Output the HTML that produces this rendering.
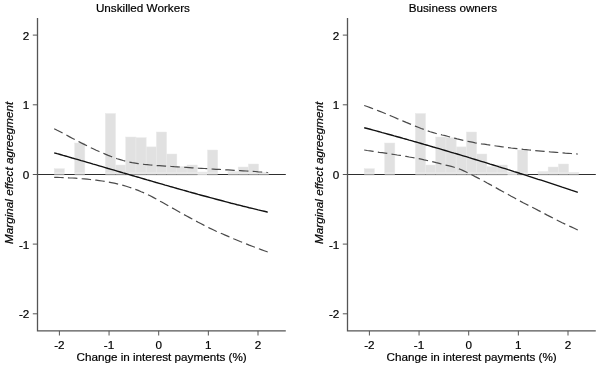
<!DOCTYPE html>
<html><head><meta charset="utf-8"><title>Marginal effects</title>
<style>
html,body{margin:0;padding:0;background:#fff;}
svg{display:block}
text{font-family:"Liberation Sans",sans-serif;fill:#000;stroke:#000;stroke-width:0.2px}
.t{font-size:11.7px}
.ti{font-size:11.7px}
.xl{font-size:11.7px}
.yl{font-size:11.7px;font-style:italic}
.d{fill:none;stroke:#4a4a4a;stroke-width:1.2;stroke-dasharray:0.69 0.31}
.s{fill:none;stroke:#111;stroke-width:1.4}
</style></head><body>
<svg width="600" height="367" viewBox="0 0 600 367">
<rect width="600" height="367" fill="#fff"/>
<rect x="54.20" y="168.7" width="10.22" height="4.15" fill="#e1e1e1" stroke="#e9e9e9" stroke-width="0.5"/>
<rect x="54.20" y="172.85" width="10.22" height="1.2" fill="#ededed"/>
<rect x="74.64" y="143" width="10.22" height="29.85" fill="#e1e1e1" stroke="#e9e9e9" stroke-width="0.5"/>
<rect x="74.64" y="172.85" width="10.22" height="1.2" fill="#ededed"/>
<rect x="105.30" y="113.5" width="10.22" height="59.35" fill="#e1e1e1" stroke="#e9e9e9" stroke-width="0.5"/>
<rect x="105.30" y="172.85" width="10.22" height="1.2" fill="#ededed"/>
<rect x="115.52" y="165" width="10.22" height="7.85" fill="#e1e1e1" stroke="#e9e9e9" stroke-width="0.5"/>
<rect x="115.52" y="172.85" width="10.22" height="1.2" fill="#ededed"/>
<rect x="125.74" y="137" width="10.22" height="35.85" fill="#e1e1e1" stroke="#e9e9e9" stroke-width="0.5"/>
<rect x="125.74" y="172.85" width="10.22" height="1.2" fill="#ededed"/>
<rect x="135.96" y="137.7" width="10.22" height="35.15" fill="#e1e1e1" stroke="#e9e9e9" stroke-width="0.5"/>
<rect x="135.96" y="172.85" width="10.22" height="1.2" fill="#ededed"/>
<rect x="146.18" y="146.9" width="10.22" height="25.95" fill="#e1e1e1" stroke="#e9e9e9" stroke-width="0.5"/>
<rect x="146.18" y="172.85" width="10.22" height="1.2" fill="#ededed"/>
<rect x="156.40" y="132" width="10.22" height="40.85" fill="#e1e1e1" stroke="#e9e9e9" stroke-width="0.5"/>
<rect x="156.40" y="172.85" width="10.22" height="1.2" fill="#ededed"/>
<rect x="166.62" y="154" width="10.22" height="18.85" fill="#e1e1e1" stroke="#e9e9e9" stroke-width="0.5"/>
<rect x="166.62" y="172.85" width="10.22" height="1.2" fill="#ededed"/>
<rect x="176.84" y="166.5" width="10.22" height="6.35" fill="#e1e1e1" stroke="#e9e9e9" stroke-width="0.5"/>
<rect x="176.84" y="172.85" width="10.22" height="1.2" fill="#ededed"/>
<rect x="187.06" y="165" width="10.22" height="7.85" fill="#e1e1e1" stroke="#e9e9e9" stroke-width="0.5"/>
<rect x="187.06" y="172.85" width="10.22" height="1.2" fill="#ededed"/>
<rect x="197.28" y="172" width="10.22" height="0.85" fill="#e1e1e1" stroke="#e9e9e9" stroke-width="0.5"/>
<rect x="197.28" y="172.85" width="10.22" height="1.2" fill="#ededed"/>
<rect x="207.50" y="150" width="10.22" height="22.85" fill="#e1e1e1" stroke="#e9e9e9" stroke-width="0.5"/>
<rect x="207.50" y="172.85" width="10.22" height="1.2" fill="#ededed"/>
<rect x="227.94" y="171.5" width="10.22" height="1.35" fill="#e1e1e1" stroke="#e9e9e9" stroke-width="0.5"/>
<rect x="227.94" y="172.85" width="10.22" height="1.2" fill="#ededed"/>
<rect x="238.16" y="167" width="10.22" height="5.85" fill="#e1e1e1" stroke="#e9e9e9" stroke-width="0.5"/>
<rect x="238.16" y="172.85" width="10.22" height="1.2" fill="#ededed"/>
<rect x="248.38" y="164" width="10.22" height="8.85" fill="#e1e1e1" stroke="#e9e9e9" stroke-width="0.5"/>
<rect x="248.38" y="172.85" width="10.22" height="1.2" fill="#ededed"/>
<rect x="258.60" y="172.5" width="10.22" height="0.35" fill="#e1e1e1" stroke="#e9e9e9" stroke-width="0.5"/>
<rect x="258.60" y="172.85" width="10.22" height="1.2" fill="#ededed"/>
<line x1="37.5" y1="174.55" x2="285.8" y2="174.55" stroke="#2e2e2e" stroke-width="1.1"/>
<rect x="54.20" y="173.95" width="10.22" height="1.2" fill="#969696"/>
<rect x="74.64" y="173.95" width="10.22" height="1.2" fill="#969696"/>
<rect x="105.30" y="173.95" width="10.22" height="1.2" fill="#969696"/>
<rect x="115.52" y="173.95" width="10.22" height="1.2" fill="#969696"/>
<rect x="125.74" y="173.95" width="10.22" height="1.2" fill="#969696"/>
<rect x="135.96" y="173.95" width="10.22" height="1.2" fill="#969696"/>
<rect x="146.18" y="173.95" width="10.22" height="1.2" fill="#969696"/>
<rect x="156.40" y="173.95" width="10.22" height="1.2" fill="#969696"/>
<rect x="166.62" y="173.95" width="10.22" height="1.2" fill="#969696"/>
<rect x="176.84" y="173.95" width="10.22" height="1.2" fill="#969696"/>
<rect x="187.06" y="173.95" width="10.22" height="1.2" fill="#969696"/>
<rect x="197.28" y="173.95" width="10.22" height="1.2" fill="#cfcfcf"/>
<rect x="207.50" y="173.95" width="10.22" height="1.2" fill="#969696"/>
<rect x="227.94" y="173.95" width="10.22" height="1.2" fill="#969696"/>
<rect x="238.16" y="173.95" width="10.22" height="1.2" fill="#969696"/>
<rect x="248.38" y="173.95" width="10.22" height="1.2" fill="#969696"/>
<rect x="258.60" y="173.95" width="10.22" height="1.2" fill="#969696"/>
<path d="M37.5,17.9 V330.9 H285.8" fill="none" stroke="#555" stroke-width="1.3"/>
<line x1="32.8" y1="35.1" x2="37.5" y2="35.1" stroke="#555" stroke-width="1"/>
<text x="29.3" y="39.7" text-anchor="end" class="t">2</text>
<line x1="32.8" y1="104.8" x2="37.5" y2="104.8" stroke="#555" stroke-width="1"/>
<text x="29.3" y="109.39999999999999" text-anchor="end" class="t">1</text>
<line x1="32.8" y1="174.5" x2="37.5" y2="174.5" stroke="#555" stroke-width="1"/>
<text x="29.3" y="179.1" text-anchor="end" class="t">0</text>
<line x1="32.8" y1="244.1" x2="37.5" y2="244.1" stroke="#555" stroke-width="1"/>
<text x="29.3" y="248.7" text-anchor="end" class="t">-1</text>
<line x1="32.8" y1="313.8" x2="37.5" y2="313.8" stroke="#555" stroke-width="1"/>
<text x="29.3" y="318.40000000000003" text-anchor="end" class="t">-2</text>
<line x1="59.4" y1="330.9" x2="59.4" y2="335.5" stroke="#555" stroke-width="1"/>
<text x="59.4" y="348.7" text-anchor="middle" class="t">-2</text>
<line x1="109.05" y1="330.9" x2="109.05" y2="335.5" stroke="#555" stroke-width="1"/>
<text x="109.05" y="348.7" text-anchor="middle" class="t">-1</text>
<line x1="158.7" y1="330.9" x2="158.7" y2="335.5" stroke="#555" stroke-width="1"/>
<text x="158.7" y="348.7" text-anchor="middle" class="t">0</text>
<line x1="208.35" y1="330.9" x2="208.35" y2="335.5" stroke="#555" stroke-width="1"/>
<text x="208.35" y="348.7" text-anchor="middle" class="t">1</text>
<line x1="258" y1="330.9" x2="258" y2="335.5" stroke="#555" stroke-width="1"/>
<text x="258" y="348.7" text-anchor="middle" class="t">2</text>
<path d="M54.2,128.7 L57.2,130.3 L60.2,131.8 L63.2,133.4 L66.2,135.0 L69.2,136.6 L72.2,138.2 L75.2,139.8 L78.2,141.3 L81.2,142.9 L84.2,144.4 L87.2,145.9 L90.2,147.4 L93.2,148.8 L96.2,150.2 L99.2,151.5 L102.2,152.8 L105.2,154.1 L108.2,155.4 L111.2,156.5 L114.2,157.7 L117.2,158.7 L120.2,159.6 L123.2,160.5 L126.2,161.3 L129.2,162.0 L132.2,162.6 L135.2,163.1 L138.2,163.6 L141.2,164.0 L144.2,164.4 L147.2,164.7 L150.2,165.0 L153.2,165.3 L156.2,165.5 L159.2,165.7 L162.2,165.9 L165.2,166.1 L168.2,166.3 L171.2,166.5 L174.2,166.7 L177.2,166.8 L180.2,167.0 L183.2,167.2 L186.2,167.4 L189.2,167.6 L192.2,167.8 L195.2,168.0 L198.2,168.2 L201.2,168.3 L204.2,168.5 L207.2,168.7 L210.2,168.9 L213.2,169.1 L216.2,169.3 L219.2,169.4 L222.2,169.6 L225.2,169.8 L228.2,169.9 L231.2,170.1 L234.2,170.3 L237.2,170.4 L240.2,170.6 L243.2,170.8 L246.2,171.0 L249.2,171.2 L252.2,171.3 L255.2,171.5 L258.2,171.8 L261.2,172.0 L264.2,172.2 L267.2,172.5 L267.8,172.5" class="d" pathLength="16.1"/>
<path d="M54.2,177.4 L57.2,177.4 L60.2,177.5 L63.2,177.6 L66.2,177.7 L69.2,177.9 L72.2,178.0 L75.2,178.2 L78.2,178.4 L81.2,178.7 L84.2,178.9 L87.2,179.2 L90.2,179.5 L93.2,179.9 L96.2,180.2 L99.2,180.6 L102.2,181.0 L105.2,181.5 L108.2,182.0 L111.2,182.6 L114.2,183.2 L117.2,183.9 L120.2,184.6 L123.2,185.4 L126.2,186.3 L129.2,187.2 L132.2,188.2 L135.2,189.3 L138.2,190.4 L141.2,191.7 L144.2,192.9 L147.2,194.3 L150.2,195.8 L153.2,197.4 L156.2,199.0 L159.2,200.7 L162.2,202.3 L165.2,204.0 L168.2,205.7 L171.2,207.4 L174.2,209.1 L177.2,210.8 L180.2,212.5 L183.2,214.2 L186.2,215.8 L189.2,217.4 L192.2,219.0 L195.2,220.6 L198.2,222.3 L201.2,223.8 L204.2,225.4 L207.2,226.9 L210.2,228.4 L213.2,229.8 L216.2,231.2 L219.2,232.5 L222.2,233.8 L225.2,235.1 L228.2,236.4 L231.2,237.7 L234.2,239.0 L237.2,240.2 L240.2,241.5 L243.2,242.7 L246.2,243.9 L249.2,245.1 L252.2,246.2 L255.2,247.4 L258.2,248.5 L261.2,249.6 L264.2,250.7 L267.2,251.8 L267.8,252.0" class="d" pathLength="16.69"/>
<path d="M54.2,152.8 L57.2,153.7 L60.2,154.5 L63.2,155.4 L66.2,156.2 L69.2,157.1 L72.2,158.0 L75.2,158.8 L78.2,159.7 L81.2,160.6 L84.2,161.4 L87.2,162.3 L90.2,163.2 L93.2,164.1 L96.2,164.9 L99.2,165.8 L102.2,166.7 L105.2,167.6 L108.2,168.5 L111.2,169.3 L114.2,170.2 L117.2,171.1 L120.2,172.0 L123.2,172.9 L126.2,173.7 L129.2,174.6 L132.2,175.5 L135.2,176.4 L138.2,177.2 L141.2,178.1 L144.2,179.0 L147.2,179.9 L150.2,180.7 L153.2,181.6 L156.2,182.5 L159.2,183.3 L162.2,184.2 L165.2,185.1 L168.2,185.9 L171.2,186.8 L174.2,187.6 L177.2,188.5 L180.2,189.3 L183.2,190.2 L186.2,191.0 L189.2,191.9 L192.2,192.7 L195.2,193.5 L198.2,194.4 L201.2,195.2 L204.2,196.0 L207.2,196.8 L210.2,197.6 L213.2,198.4 L216.2,199.2 L219.2,200.0 L222.2,200.8 L225.2,201.6 L228.2,202.4 L231.2,203.2 L234.2,203.9 L237.2,204.7 L240.2,205.4 L243.2,206.2 L246.2,206.9 L249.2,207.7 L252.2,208.4 L255.2,209.1 L258.2,209.9 L261.2,210.6 L264.2,211.3 L267.2,212.0 L267.8,212.1" class="s"/>
<text x="142.9" y="11.5" text-anchor="middle" class="ti">Unskilled Workers</text>
<text x="161.6" y="361.4" text-anchor="middle" class="xl">Change in interest payments (%)</text>
<text transform="translate(12.5,172.8) rotate(-90)" text-anchor="middle" class="yl">Marginal effect agreegment</text>
<rect x="364.20" y="168.7" width="10.22" height="4.15" fill="#e1e1e1" stroke="#e9e9e9" stroke-width="0.5"/>
<rect x="364.20" y="172.85" width="10.22" height="1.2" fill="#ededed"/>
<rect x="384.64" y="143" width="10.22" height="29.85" fill="#e1e1e1" stroke="#e9e9e9" stroke-width="0.5"/>
<rect x="384.64" y="172.85" width="10.22" height="1.2" fill="#ededed"/>
<rect x="415.30" y="113.5" width="10.22" height="59.35" fill="#e1e1e1" stroke="#e9e9e9" stroke-width="0.5"/>
<rect x="415.30" y="172.85" width="10.22" height="1.2" fill="#ededed"/>
<rect x="425.52" y="165" width="10.22" height="7.85" fill="#e1e1e1" stroke="#e9e9e9" stroke-width="0.5"/>
<rect x="425.52" y="172.85" width="10.22" height="1.2" fill="#ededed"/>
<rect x="435.74" y="137" width="10.22" height="35.85" fill="#e1e1e1" stroke="#e9e9e9" stroke-width="0.5"/>
<rect x="435.74" y="172.85" width="10.22" height="1.2" fill="#ededed"/>
<rect x="445.96" y="137.7" width="10.22" height="35.15" fill="#e1e1e1" stroke="#e9e9e9" stroke-width="0.5"/>
<rect x="445.96" y="172.85" width="10.22" height="1.2" fill="#ededed"/>
<rect x="456.18" y="146.9" width="10.22" height="25.95" fill="#e1e1e1" stroke="#e9e9e9" stroke-width="0.5"/>
<rect x="456.18" y="172.85" width="10.22" height="1.2" fill="#ededed"/>
<rect x="466.40" y="132" width="10.22" height="40.85" fill="#e1e1e1" stroke="#e9e9e9" stroke-width="0.5"/>
<rect x="466.40" y="172.85" width="10.22" height="1.2" fill="#ededed"/>
<rect x="476.62" y="154" width="10.22" height="18.85" fill="#e1e1e1" stroke="#e9e9e9" stroke-width="0.5"/>
<rect x="476.62" y="172.85" width="10.22" height="1.2" fill="#ededed"/>
<rect x="486.84" y="166.5" width="10.22" height="6.35" fill="#e1e1e1" stroke="#e9e9e9" stroke-width="0.5"/>
<rect x="486.84" y="172.85" width="10.22" height="1.2" fill="#ededed"/>
<rect x="497.06" y="165" width="10.22" height="7.85" fill="#e1e1e1" stroke="#e9e9e9" stroke-width="0.5"/>
<rect x="497.06" y="172.85" width="10.22" height="1.2" fill="#ededed"/>
<rect x="507.28" y="172" width="10.22" height="0.85" fill="#e1e1e1" stroke="#e9e9e9" stroke-width="0.5"/>
<rect x="507.28" y="172.85" width="10.22" height="1.2" fill="#ededed"/>
<rect x="517.50" y="150" width="10.22" height="22.85" fill="#e1e1e1" stroke="#e9e9e9" stroke-width="0.5"/>
<rect x="517.50" y="172.85" width="10.22" height="1.2" fill="#ededed"/>
<rect x="537.94" y="171.5" width="10.22" height="1.35" fill="#e1e1e1" stroke="#e9e9e9" stroke-width="0.5"/>
<rect x="537.94" y="172.85" width="10.22" height="1.2" fill="#ededed"/>
<rect x="548.16" y="167" width="10.22" height="5.85" fill="#e1e1e1" stroke="#e9e9e9" stroke-width="0.5"/>
<rect x="548.16" y="172.85" width="10.22" height="1.2" fill="#ededed"/>
<rect x="558.38" y="164" width="10.22" height="8.85" fill="#e1e1e1" stroke="#e9e9e9" stroke-width="0.5"/>
<rect x="558.38" y="172.85" width="10.22" height="1.2" fill="#ededed"/>
<rect x="568.60" y="172.5" width="10.22" height="0.35" fill="#e1e1e1" stroke="#e9e9e9" stroke-width="0.5"/>
<rect x="568.60" y="172.85" width="10.22" height="1.2" fill="#ededed"/>
<line x1="347.5" y1="174.55" x2="595.8" y2="174.55" stroke="#2e2e2e" stroke-width="1.1"/>
<rect x="364.20" y="173.95" width="10.22" height="1.2" fill="#969696"/>
<rect x="384.64" y="173.95" width="10.22" height="1.2" fill="#969696"/>
<rect x="415.30" y="173.95" width="10.22" height="1.2" fill="#969696"/>
<rect x="425.52" y="173.95" width="10.22" height="1.2" fill="#969696"/>
<rect x="435.74" y="173.95" width="10.22" height="1.2" fill="#969696"/>
<rect x="445.96" y="173.95" width="10.22" height="1.2" fill="#969696"/>
<rect x="456.18" y="173.95" width="10.22" height="1.2" fill="#969696"/>
<rect x="466.40" y="173.95" width="10.22" height="1.2" fill="#969696"/>
<rect x="476.62" y="173.95" width="10.22" height="1.2" fill="#969696"/>
<rect x="486.84" y="173.95" width="10.22" height="1.2" fill="#969696"/>
<rect x="497.06" y="173.95" width="10.22" height="1.2" fill="#969696"/>
<rect x="507.28" y="173.95" width="10.22" height="1.2" fill="#cfcfcf"/>
<rect x="517.50" y="173.95" width="10.22" height="1.2" fill="#969696"/>
<rect x="537.94" y="173.95" width="10.22" height="1.2" fill="#969696"/>
<rect x="548.16" y="173.95" width="10.22" height="1.2" fill="#969696"/>
<rect x="558.38" y="173.95" width="10.22" height="1.2" fill="#969696"/>
<rect x="568.60" y="173.95" width="10.22" height="1.2" fill="#969696"/>
<path d="M347.5,17.9 V330.9 H595.8" fill="none" stroke="#555" stroke-width="1.3"/>
<line x1="342.8" y1="35.1" x2="347.5" y2="35.1" stroke="#555" stroke-width="1"/>
<text x="339.3" y="39.7" text-anchor="end" class="t">2</text>
<line x1="342.8" y1="104.8" x2="347.5" y2="104.8" stroke="#555" stroke-width="1"/>
<text x="339.3" y="109.39999999999999" text-anchor="end" class="t">1</text>
<line x1="342.8" y1="174.5" x2="347.5" y2="174.5" stroke="#555" stroke-width="1"/>
<text x="339.3" y="179.1" text-anchor="end" class="t">0</text>
<line x1="342.8" y1="244.1" x2="347.5" y2="244.1" stroke="#555" stroke-width="1"/>
<text x="339.3" y="248.7" text-anchor="end" class="t">-1</text>
<line x1="342.8" y1="313.8" x2="347.5" y2="313.8" stroke="#555" stroke-width="1"/>
<text x="339.3" y="318.40000000000003" text-anchor="end" class="t">-2</text>
<line x1="369.4" y1="330.9" x2="369.4" y2="335.5" stroke="#555" stroke-width="1"/>
<text x="369.4" y="348.7" text-anchor="middle" class="t">-2</text>
<line x1="419.05" y1="330.9" x2="419.05" y2="335.5" stroke="#555" stroke-width="1"/>
<text x="419.05" y="348.7" text-anchor="middle" class="t">-1</text>
<line x1="468.7" y1="330.9" x2="468.7" y2="335.5" stroke="#555" stroke-width="1"/>
<text x="468.7" y="348.7" text-anchor="middle" class="t">0</text>
<line x1="518.35" y1="330.9" x2="518.35" y2="335.5" stroke="#555" stroke-width="1"/>
<text x="518.35" y="348.7" text-anchor="middle" class="t">1</text>
<line x1="568" y1="330.9" x2="568" y2="335.5" stroke="#555" stroke-width="1"/>
<text x="568" y="348.7" text-anchor="middle" class="t">2</text>
<path d="M364.2,105.5 L367.2,106.5 L370.2,107.6 L373.2,108.8 L376.2,109.9 L379.2,111.1 L382.2,112.3 L385.2,113.5 L388.2,114.8 L391.2,116.0 L394.2,117.3 L397.2,118.6 L400.2,119.8 L403.2,121.1 L406.2,122.4 L409.2,123.6 L412.2,124.9 L415.2,126.1 L418.2,127.3 L421.2,128.5 L424.2,129.6 L427.2,130.7 L430.2,131.7 L433.2,132.6 L436.2,133.5 L439.2,134.2 L442.2,135.0 L445.2,135.7 L448.2,136.5 L451.2,137.3 L454.2,138.1 L457.2,138.9 L460.2,139.6 L463.2,140.4 L466.2,141.0 L469.2,141.6 L472.2,142.2 L475.2,142.8 L478.2,143.3 L481.2,143.8 L484.2,144.2 L487.2,144.7 L490.2,145.1 L493.2,145.6 L496.2,146.0 L499.2,146.4 L502.2,146.8 L505.2,147.2 L508.2,147.6 L511.2,148.0 L514.2,148.3 L517.2,148.7 L520.2,149.0 L523.2,149.4 L526.2,149.7 L529.2,150.0 L532.2,150.3 L535.2,150.6 L538.2,150.8 L541.2,151.1 L544.2,151.4 L547.2,151.6 L550.2,151.9 L553.2,152.1 L556.2,152.3 L559.2,152.6 L562.2,152.8 L565.2,153.1 L568.2,153.3 L571.2,153.5 L574.2,153.8 L577.2,154.0 L577.8,154.1" class="d" pathLength="16.12"/>
<path d="M364.2,150.0 L367.2,150.5 L370.2,150.9 L373.2,151.4 L376.2,151.8 L379.2,152.3 L382.2,152.7 L385.2,153.1 L388.2,153.6 L391.2,154.0 L394.2,154.5 L397.2,155.0 L400.2,155.4 L403.2,155.9 L406.2,156.4 L409.2,157.0 L412.2,157.5 L415.2,158.1 L418.2,158.6 L421.2,159.2 L424.2,159.9 L427.2,160.5 L430.2,161.2 L433.2,161.9 L436.2,162.7 L439.2,163.4 L442.2,164.2 L445.2,165.0 L448.2,165.7 L451.2,166.4 L454.2,167.3 L457.2,168.2 L460.2,169.3 L463.2,170.6 L466.2,172.0 L469.2,173.5 L472.2,175.0 L475.2,176.6 L478.2,178.1 L481.2,179.7 L484.2,181.3 L487.2,183.0 L490.2,184.6 L493.2,186.3 L496.2,187.9 L499.2,189.6 L502.2,191.2 L505.2,192.9 L508.2,194.5 L511.2,196.2 L514.2,197.8 L517.2,199.5 L520.2,201.1 L523.2,202.7 L526.2,204.2 L529.2,205.8 L532.2,207.3 L535.2,208.8 L538.2,210.4 L541.2,211.9 L544.2,213.5 L547.2,215.1 L550.2,216.6 L553.2,218.2 L556.2,219.7 L559.2,221.2 L562.2,222.7 L565.2,224.1 L568.2,225.5 L571.2,226.9 L574.2,228.3 L577.2,229.7 L577.8,230.0" class="d" pathLength="16.69"/>
<path d="M364.2,127.7 L367.2,128.5 L370.2,129.3 L373.2,130.1 L376.2,130.9 L379.2,131.7 L382.2,132.6 L385.2,133.4 L388.2,134.2 L391.2,135.0 L394.2,135.9 L397.2,136.7 L400.2,137.5 L403.2,138.4 L406.2,139.2 L409.2,140.1 L412.2,140.9 L415.2,141.8 L418.2,142.6 L421.2,143.5 L424.2,144.4 L427.2,145.2 L430.2,146.1 L433.2,147.0 L436.2,147.8 L439.2,148.7 L442.2,149.6 L445.2,150.5 L448.2,151.4 L451.2,152.3 L454.2,153.2 L457.2,154.0 L460.2,154.9 L463.2,155.8 L466.2,156.7 L469.2,157.7 L472.2,158.6 L475.2,159.5 L478.2,160.4 L481.2,161.3 L484.2,162.2 L487.2,163.1 L490.2,164.1 L493.2,165.0 L496.2,165.9 L499.2,166.9 L502.2,167.8 L505.2,168.7 L508.2,169.7 L511.2,170.6 L514.2,171.6 L517.2,172.5 L520.2,173.5 L523.2,174.4 L526.2,175.4 L529.2,176.4 L532.2,177.3 L535.2,178.3 L538.2,179.3 L541.2,180.2 L544.2,181.2 L547.2,182.2 L550.2,183.2 L553.2,184.2 L556.2,185.2 L559.2,186.2 L562.2,187.2 L565.2,188.1 L568.2,189.1 L571.2,190.2 L574.2,191.2 L577.2,192.2 L577.8,192.4" class="s"/>
<text x="452.9" y="11.5" text-anchor="middle" class="ti">Business owners</text>
<text x="471.6" y="361.4" text-anchor="middle" class="xl">Change in interest payments (%)</text>
<text transform="translate(322.5,172.8) rotate(-90)" text-anchor="middle" class="yl">Marginal effect agreegment</text>
</svg>
</body></html>
